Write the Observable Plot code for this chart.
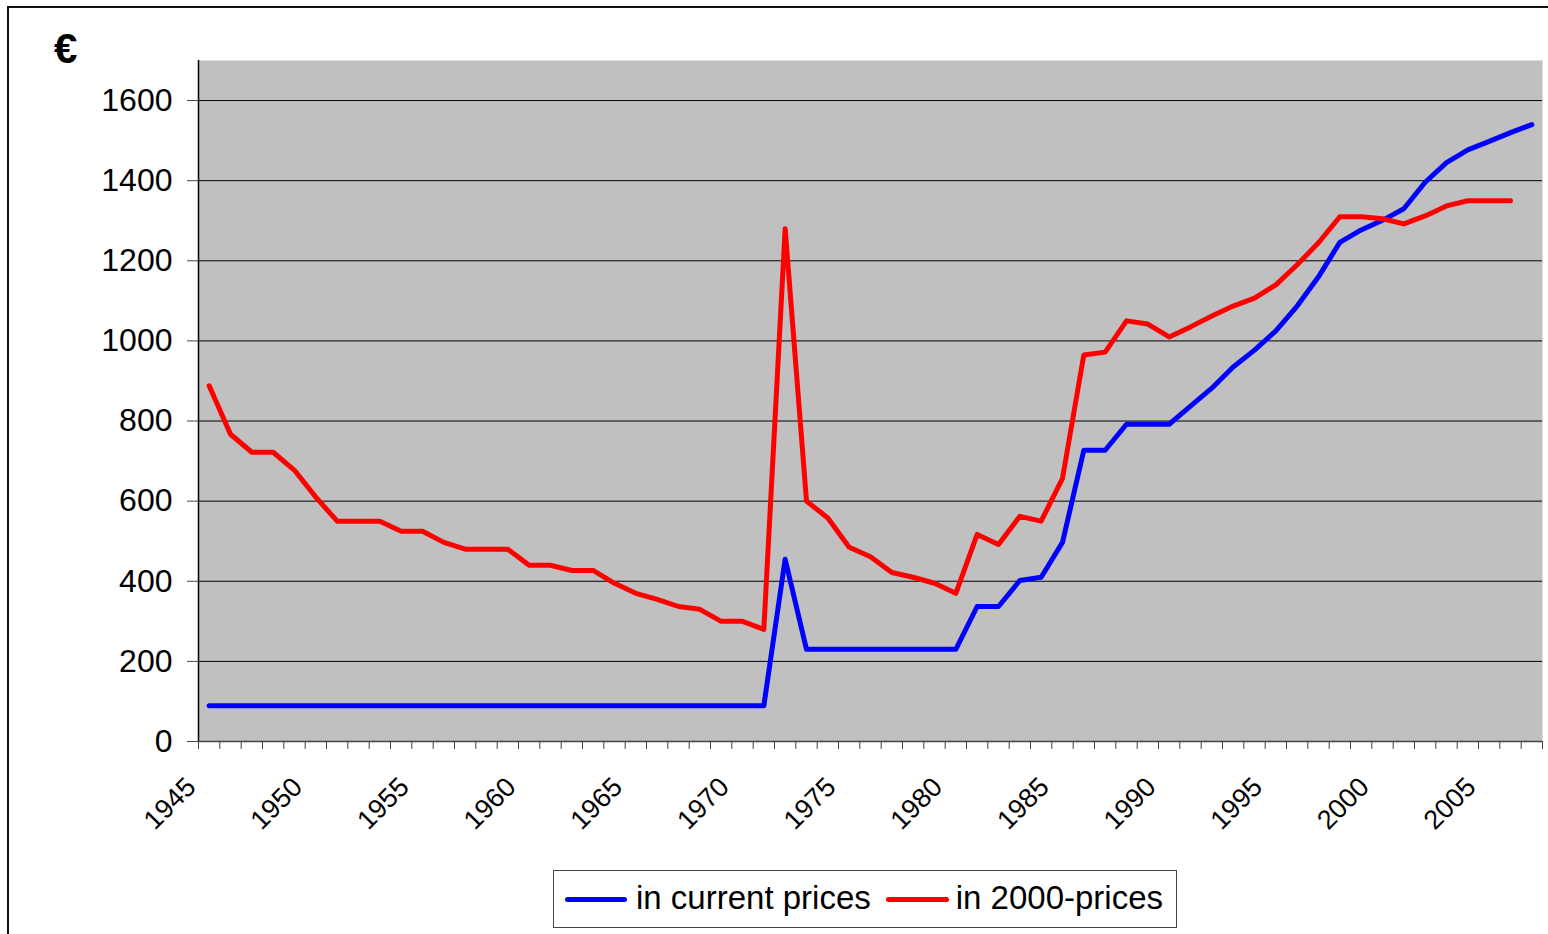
<!DOCTYPE html>
<html>
<head>
<meta charset="utf-8">
<script src="https://cdn.jsdelivr.net/npm/d3@7"></script>
<script src="https://cdn.jsdelivr.net/npm/@observablehq/plot@0.6"></script>
<style>
  html, body { margin: 0; padding: 0; background: #fff; }
  body { width: 1548px; height: 934px; position: relative; overflow: hidden; font-family: "Liberation Sans", Arial, sans-serif; }
  #border { position: absolute; left: 7px; top: 6px; width: 1600px; height: 1000px; border: 2px solid #111; box-sizing: border-box; }
  #chart { position: absolute; left: 0; top: 0; }
  #unit { position: absolute; left: 54px; top: 28px; font-size: 42px; line-height: 42px; font-weight: bold; color: #000; }
  #legend { position: absolute; left: 553px; top: 870px; width: 624px; height: 58px; box-sizing: border-box; border: 1px solid #444; background: #fff; display: flex; align-items: center; font-size: 33px; color: #000; padding-bottom: 3px; }
  #legend .sw { display: inline-block; height: 5px; border-radius: 3px; }
</style>
</head>
<body>
<div id="border"></div>
<div id="chart"></div>
<div id="unit">€</div>
<div id="legend"></div>
<script>
// Categories (years)
const years = [1945,1946,1947,1948,1949,1950,1951,1952,1953,1954,1955,1956,1957,1958,1959,
  1960,1961,1962,1963,1964,1965,1966,1967,1968,1969,1970,1971,1972,1973,1974,1975,1976,1977,
  1978,1979,1980,1981,1982,1983,1984,1985,1986,1987,1988,1989,1990,1991,1992,1993,1994,1995,
  1996,1997,1998,1999,2000,2001,2002,2003,2004,2005,2006,2007];

// Series: in current prices (€)
const currentPrices = [89,89,89,89,89,89,89,89,89,89,89,89,89,89,89,
  89,89,89,89,89,89,89,89,89,89,89,89,455,230,230,230,230,230,
  230,230,230,337,337,402,410,497,727,727,792,792,792,837,882,935,977,1025,
  1087,1160,1246,1277,1301,1330,1396,1445,1477,1498,1520,1540];

// Series: in 2000-prices (€)
const prices2000 = [888,767,722,722,677,610,550,550,550,525,525,497,480,480,480,
  440,440,427,427,395,370,355,337,330,300,300,280,1280,600,558,485,461,422,
  410,395,370,517,492,562,550,657,965,972,1050,1042,1010,1035,1062,1087,1107,1140,
  1190,1245,1310,1310,1305,1292,1312,1337,1350,1350,1350,null];

// Tick labels
const yTicks = [0,200,400,600,800,1000,1200,1400,1600];
const labelYears = [1945,1950,1955,1960,1965,1970,1975,1980,1985,1990,1995,2000,2005];

// Series names and colours
const seriesNames = ["in current prices", "in 2000-prices"];
const seriesColors = ["#0000ff", "#ff0000"];

const table = years.map((year, i) => ({year, current: currentPrices[i], real: prices2000[i]}));
const boundaries = years.map(y => y - 0.5).concat([years[years.length - 1] + 0.5]);

const chart = Plot.plot({
  width: 1548,
  height: 860,
  marginLeft: 198,
  marginRight: 6,
  marginTop: 60,
  marginBottom: 119,
  style: {fontFamily: '"Liberation Sans", Arial, sans-serif', background: "transparent", color: "#000"},
  x: {domain: [years[0] - 0.5, years[years.length - 1] + 0.5], axis: null},
  y: {domain: [0, 1700], axis: null},
  marks: [
    Plot.frame({fill: "#c0c0c0", stroke: "none"}),
    Plot.gridY({ticks: yTicks.filter(d => d > 0), stroke: "#000", strokeOpacity: 1, strokeWidth: 1}),
    Plot.ruleX([years[0] - 0.5], {stroke: "#000", strokeWidth: 1.5}),
    Plot.ruleY([0], {stroke: "#444", strokeWidth: 1.5}),
    Plot.axisY({ticks: yTicks, tickSize: 11, tickPadding: 15, fontSize: 32, stroke: "#444", label: null, tickFormat: d => String(d)}),
    Plot.axisX({ticks: boundaries, tickSize: 8, stroke: "#444", label: null, tickFormat: () => ""}),
    Plot.text(labelYears, {x: d => d, frameAnchor: "bottom", dx: -18, dy: 41, rotate: -45, textAnchor: "end", lineAnchor: "middle", fontSize: 27, text: d => String(d), fill: "#000"}),
    Plot.line(table, {x: "year", y: "current", stroke: seriesColors[0], strokeWidth: 5, strokeLinejoin: "round", strokeLinecap: "round"}),
    Plot.line(table, {x: "year", y: "real", stroke: seriesColors[1], strokeWidth: 5, strokeLinejoin: "round", strokeLinecap: "round"})
  ]
});
document.getElementById("chart").appendChild(chart);

// Legend
const legend = document.getElementById("legend");
const swWidths = [62, 63];
const swLeft = [11, 15];
const txtLeft = [9, 7];
seriesNames.forEach((name, i) => {
  const sw = document.createElement("span");
  sw.className = "sw";
  sw.style.width = swWidths[i] + "px";
  sw.style.background = seriesColors[i];
  sw.style.marginLeft = swLeft[i] + "px";
  sw.style.marginTop = "3px";
  const t = document.createElement("span");
  t.textContent = name;
  t.style.marginLeft = txtLeft[i] + "px";
  legend.appendChild(sw);
  legend.appendChild(t);
});
</script>
</body>
</html>
